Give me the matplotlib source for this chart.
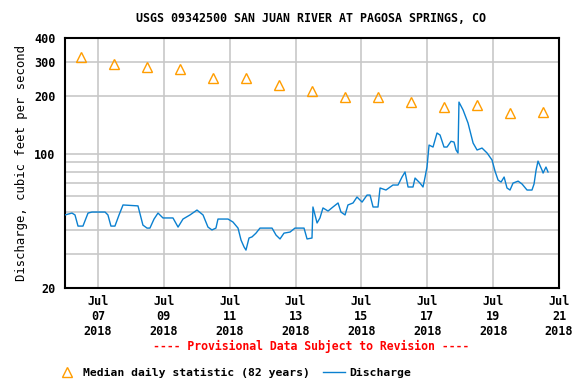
import matplotlib
matplotlib.use("Agg")
import matplotlib.pyplot as plt
from matplotlib.ticker import FixedLocator, NullFormatter
import pandas as pd

# hours after 2018-07-06 00:00 and discharge (cfs)
hours = [0, 5.1, 7.3, 9.5, 13.1, 16.8, 19.7, 29.2, 31.3, 33.5, 36.4, 39.4, 42.3,
         53.2, 56.8, 59.8, 61.9, 64.9, 67.8, 71.4, 78.7, 82.4, 86.0, 91.1, 96.2,
         100.6, 104.2, 107.1, 110.0, 111.5, 118.8, 122.4, 126.1, 128.3, 130.5,
         131.9, 134.1, 136.3, 139.2, 142.1, 150.9, 153.8, 156.7, 159.6, 164.0,
         167.6, 174.2, 176.4, 180.0, 180.7, 183.7, 185.8, 188.0, 191.7, 195.3,
         199.0, 201.1, 204.1, 206.2, 209.9, 212.8, 216.5, 220.1, 222.3, 224.5,
         228.1, 229.6, 233.9, 239.0, 242.7, 245.6, 247.8, 250.0, 253.6, 255.1,
         258.7, 260.9, 262.4, 263.8, 265.3, 268.2, 271.1, 273.3, 276.2, 278.4,
         281.3, 283.5, 285.0, 286.4, 287.1, 290.1, 293.7, 297.4, 300.3, 303.9,
         307.6, 311.2, 313.4, 315.6, 317.8, 320.0, 322.1, 324.3, 326.5, 330.2,
         333.1, 336.7, 340.3, 341.8, 343.3, 344.7, 347.6, 348.4, 350.5, 352.0]
discharge = [48.0, 49.1, 48.0, 42.0, 42.0, 49.1, 49.7, 49.7, 48.0, 42.0, 42.0,
             48.0, 54.1, 53.5, 42.5, 41.0, 41.0, 45.7, 49.1, 46.3, 46.3, 41.5,
             45.7, 48.0, 50.9, 48.0, 41.5, 40.1, 41.0, 45.7, 45.7, 44.1, 41.0,
             35.5, 32.7, 31.5, 36.4, 36.9, 38.6, 41.0, 41.0, 37.7, 36.0, 38.6,
             39.1, 41.0, 41.0, 36.0, 36.4, 52.8, 43.6, 46.3, 52.2, 50.3, 52.8,
             55.4, 49.7, 48.0, 54.1, 55.4, 59.5, 56.0, 60.9, 60.9, 52.8, 52.8,
             66.3, 64.7, 68.7, 68.7, 75.6, 80.3, 67.1, 67.1, 74.7, 70.3, 67.1,
             75.6, 85.2, 110.9, 108.3, 128.1, 125.1, 108.3, 108.3, 116.0, 115.0,
             104.5, 100.8, 185.6, 168.8, 144.4, 113.6, 104.5, 107.0, 100.8, 92.7,
             81.0, 72.9, 71.2, 75.6, 66.3, 64.7, 70.3, 72.0, 69.5, 64.7, 64.7,
             69.5, 82.2, 91.5, 82.2, 79.3, 85.2, 80.3]

median_days = pd.date_range("2018-07-06 12:00", "2018-07-20 12:00", freq="D")
median_vals = [317, 292, 283, 275, 249, 249, 227, 211, 198, 198, 185, 176, 179, 162, 164]

times = pd.Timestamp("2018-07-06") + pd.to_timedelta(hours, unit="h")

plt.rcParams['font.family'] = ['DejaVu Sans Mono']
plt.rcParams['font.weight'] = 'bold'

fig = plt.figure(figsize=(5.76, 3.84), dpi=100)
ax = fig.add_axes([0.1128, 0.25, 0.8577, 0.651])

ax.plot(times, discharge, color='#0a80d0', lw=1.0, label='Discharge', zorder=3)
ax.plot(median_days, median_vals, ls='none', marker='^', ms=7, mfc='none',
        mec='#ff9d00', mew=1.0, label='Median daily statistic (82 years)', zorder=3)

ax.set_yscale('log')
ax.set_ylim(20, 400)
ax.yaxis.set_major_locator(FixedLocator([20, 100, 200, 300, 400]))
ax.yaxis.set_minor_locator(FixedLocator([30, 40, 50, 60, 70, 80, 90]))
ax.yaxis.set_major_formatter(plt.FuncFormatter(lambda v, p: '%d' % v))
ax.yaxis.set_minor_formatter(NullFormatter())

ax.set_xlim(pd.Timestamp("2018-07-06"), pd.Timestamp("2018-07-21"))
xt = pd.date_range("2018-07-07", "2018-07-21", freq="2D")
ax.set_xticks(xt)
ax.set_xticklabels([d.strftime("Jul\n%d\n%Y") for d in xt])

ax.grid(True, which='both', color='#c8c8c8', lw=1.2, zorder=0)
ax.tick_params(which='both', length=0, labelsize=8.5)
ax.tick_params(axis='x', pad=5)
ax.tick_params(axis='y', pad=7)
for s in ax.spines.values():
    s.set_linewidth(1.5)

ax.set_ylabel('Discharge, cubic feet per second', fontsize=8.8, labelpad=4)
fig.text(0.54, 0.953, 'USGS 09342500 SAN JUAN RIVER AT PAGOSA SPRINGS, CO',
         ha='center', va='center', fontsize=8.4)
fig.text(0.54, 0.099, '---- Provisional Data Subject to Revision ----',
         ha='center', va='center', fontsize=8.3, color='#ff0000')

h, l = ax.get_legend_handles_labels()
fig.legend(h[::-1], l[::-1], loc='center left', bbox_to_anchor=(0.08, 0.028),
           ncol=2, frameon=False, fontsize=8.2, handlelength=1.9,
           handletextpad=0.4, columnspacing=1.2)

fig.savefig('out.png', dpi=100)
